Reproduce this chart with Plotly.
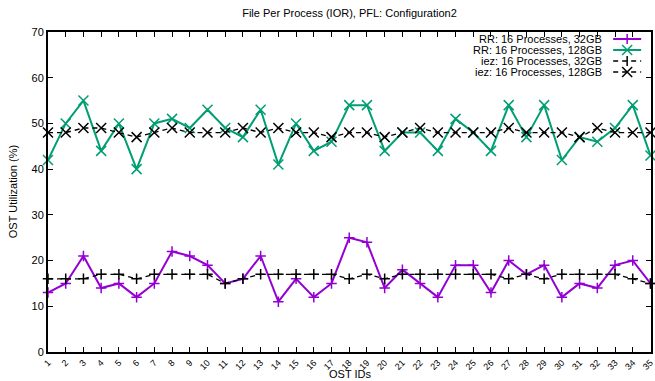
import plotly.graph_objects as go

ost_ids = list(range(1, 36))
rr_32gb = [13, 15, 21, 14, 15, 12, 15, 22, 21, 19, 15, 16, 21, 11, 16, 12, 15, 25,
           24, 14, 18, 15, 12, 19, 19, 13, 20, 17, 19, 12, 15, 14, 19, 20, 15]
rr_128gb = [42, 50, 55, 44, 50, 40, 50, 51, 49, 53, 49, 47, 53, 41, 50, 44, 46, 54,
            54, 44, 48, 48, 44, 51, 48, 44, 54, 47, 54, 42, 47, 46, 49, 54, 43]
iez_32gb = [16, 16, 16, 17, 17, 16, 17, 17, 17, 17, 15, 16, 17, 17, 17, 17, 17, 16,
            17, 16, 17, 17, 17, 17, 17, 17, 16, 17, 16, 17, 17, 17, 17, 16, 15]
iez_128gb = [48, 48, 49, 49, 48, 47, 48, 49, 48, 48, 48, 49, 48, 49, 48, 48, 47, 48,
             48, 47, 48, 49, 48, 48, 48, 48, 49, 48, 48, 48, 47, 49, 48, 48, 48]

names = ["RR: 16 Processes, 32GB", "RR: 16 Processes, 128GB",
         "iez: 16 Processes, 32GB", "iez: 16 Processes, 128GB"]
series = [rr_32gb, rr_128gb, iez_32gb, iez_128gb]
colors = ["#9400D3", "#009E73", "#000000", "#000000"]
dashes = ["solid", "solid", "5px,4px", "5px,4px"]
widths = [2, 2, 1.3, 1.3]
symbols = ["cross-thin-open", "x-thin-open", "cross-thin-open", "x-thin-open"]
sizes = [7.5, 10, 7.5, 10]
kinds = ["plus", "x", "plus", "x"]

FONT = "Liberation Sans, Arial, sans-serif"
fig = go.Figure()
for nm, ys, c, d, w, s, sz in zip(names, series, colors, dashes, widths, symbols, sizes):
    fig.add_trace(go.Scatter(
        x=ost_ids, y=ys, name=nm, mode="lines+markers",
        line=dict(color=c, width=w, dash=d),
        marker=dict(symbol=s, size=sz, color=c, line=dict(color=c, width=1.5)),
        showlegend=False, cliponaxis=False))

# custom gnuplot-like legend (text right-aligned, sample to the right)
W, H, L, T = 607, 320, 48, 32
def px(xp): return (xp - L) / W
def py(yp): return 1 - (yp - T) / H

shapes = []
annotations = []
row_y = [39, 50, 61, 72]
cx = px(631)
for i, (nm, c, d, w, k) in enumerate(zip(names, colors, dashes, widths, kinds)):
    yy = py(row_y[i])
    annotations.append(dict(x=px(608), y=yy, xref="paper", yref="paper", text=nm,
                            showarrow=False, xanchor="right", yanchor="middle",
                            font=dict(size=11, family=FONT, color="black")))
    base = dict(type="line", xref="paper", yref="paper", xsizemode="pixel",
                ysizemode="pixel", xanchor=cx, yanchor=yy)
    shapes.append(dict(base, x0=-14, x1=14, y0=0, y1=0,
                       line=dict(color=c, width=w, dash=d)))
    if k == "plus":
        shapes.append(dict(base, x0=0, x1=0, y0=-5, y1=5, line=dict(color=c, width=1.5)))
    else:
        shapes.append(dict(base, x0=-5, x1=5, y0=-5, y1=5, line=dict(color=c, width=1.5)))
        shapes.append(dict(base, x0=-5, x1=5, y0=5, y1=-5, line=dict(color=c, width=1.5)))

annotations.append(dict(x=0.5, y=0, xref="paper", yref="paper",
                        text="OST IDs", showarrow=False, xanchor="center",
                        yanchor="middle", yshift=-(374 - 352),
                        font=dict(size=11, family=FONT, color="black")))
annotations.append(dict(x=-(48 - 13) / W, y=0.5, xref="paper", yref="paper",
                        text="OST Utilization (%)", showarrow=False, textangle=-90,
                        xanchor="center", yanchor="middle",
                        font=dict(size=11, family=FONT, color="black")))

fig.update_layout(
    width=655, height=381,
    margin=dict(l=48, r=0, t=32, b=29),
    paper_bgcolor="white", plot_bgcolor="white",
    font=dict(family=FONT, size=11, color="black"),
    title=dict(text="File Per Process (IOR), PFL: Configuration2",
               x=0.5, xref="paper", xanchor="center",
               y=1 - 13 / 381, yref="container", yanchor="middle",
               font=dict(size=11, family=FONT, color="black")),
    shapes=shapes, annotations=annotations,
    showlegend=False,
)
fig.update_xaxes(range=[1, 35.03], tickvals=ost_ids, ticktext=[str(v) for v in ost_ids],
                 tickangle=-45, ticks="inside", ticklen=5, tickwidth=1,
                 tickcolor="black", showline=True, linecolor="black", linewidth=2,
                 mirror="ticks", showgrid=False, zeroline=False,
                 ticklabeloverflow="allow",
                 tickfont=dict(size=9, family=FONT, color="black"))
fig.update_yaxes(range=[0, 70], dtick=10, ticks="inside", ticklen=5, tickwidth=1,
                 tickcolor="black", showline=True, linecolor="black", linewidth=2,
                 mirror="ticks", showgrid=False, zeroline=False,
                 tickfont=dict(size=11, family=FONT, color="black"))

fig.write_html("out.html")
